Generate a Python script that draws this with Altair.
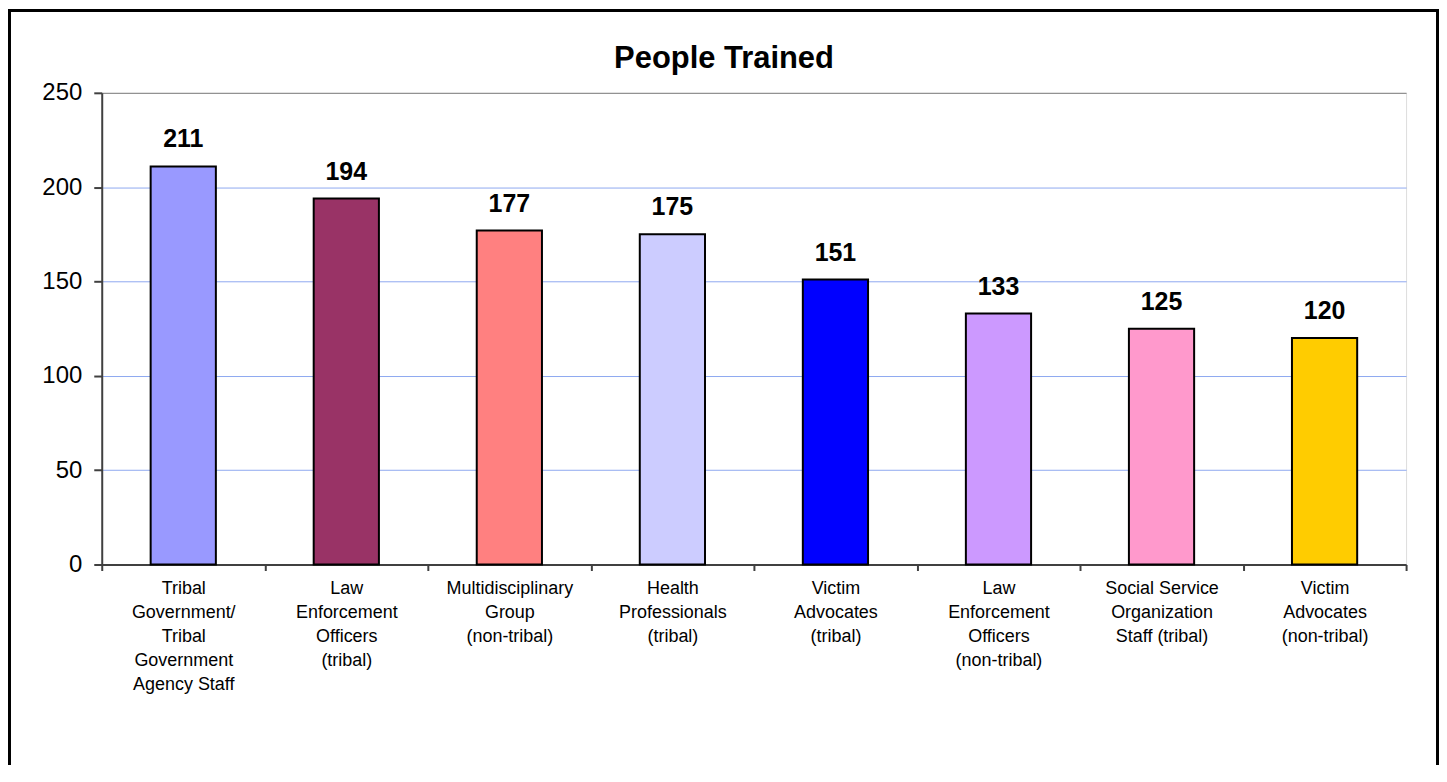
import altair as alt
import pandas as pd

# ---- data ----
categories = [
    "Tribal|Government/|Tribal|Government|Agency Staff",
    "Law|Enforcement|Officers|(tribal)",
    "Multidisciplinary|Group|(non-tribal)",
    "Health|Professionals|(tribal)",
    "Victim|Advocates|(tribal)",
    "Law|Enforcement|Officers|(non-tribal)",
    "Social Service|Organization|Staff (tribal)",
    "Victim|Advocates|(non-tribal)",
]
values = [211, 194, 177, 175, 151, 133, 125, 120]
colors = ["#9999FF", "#993366", "#FF8080", "#CCCCFF", "#0000FF", "#CC99FF", "#FF99CC", "#FFCC00"]
y_ticks = [0, 50, 100, 150, 200, 250]
title_text = "People Trained"

df = pd.DataFrame({"category": categories, "value": values, "color": colors})

FONT = "Liberation Sans"
W, H = 1308, 473

x = alt.X(
    "category:N",
    sort=None,
    title=None,
    scale=alt.Scale(paddingInner=0, paddingOuter=0),
    axis=alt.Axis(
        labelAngle=0,
        labelExpr="split(datum.label, '|')",
        tickBand="extent",
        tickSize=6,
        tickWidth=2,
        tickColor="#404040",
        domainColor="#404040",
        domainWidth=2,
        labelFontSize=18,
        labelLineHeight=24,
        labelColor="black",
        labelPadding=9,
        labelFont=FONT,
        labelLimit=300,
        labelBaseline="top",
        labelOverlap=False,
    ),
)
y = alt.Y(
    "value:Q",
    title=None,
    scale=alt.Scale(domain=[0, 250], nice=False),
    axis=alt.Axis(
        values=y_ticks,
        grid=True,
        gridColor={"condition": {"test": "datum.value == 250", "value": "#808080"}, "value": "#8FA9F0"},
        gridWidth=1,
        tickSize=8,
        tickWidth=2,
        tickColor="#404040",
        domainColor="#404040",
        domainWidth=2,
        labelFontSize=24,
        labelColor="black",
        labelPadding=12,
        labelFont=FONT,
    ),
)

border = alt.Chart(pd.DataFrame({"b": [0]})).mark_rect(
    fillOpacity=0, stroke="black", strokeWidth=3
).encode(
    x=alt.value(-92.5), x2=alt.value(1339.5), y=alt.value(-82.5), y2=alt.value(800)
)

bars = alt.Chart(df).mark_bar(
    width=alt.RelativeBandSize(0.4), stroke="black", strokeWidth=2
).encode(
    x=x, y=y, color=alt.Color("color:N", scale=None, legend=None)
)

labels = alt.Chart(df).mark_text(
    dy=-19, fontSize=25, fontWeight="bold", baseline="alphabetic", font=FONT, color="black"
).encode(x=x, y=y, text="value:Q")

chart = alt.layer(border, bars, labels).properties(
    width=W,
    height=H,
    padding={"left": 94, "top": 84, "right": 33, "bottom": 200},
    autosize="none",
    title=alt.TitleParams(
        title_text,
        fontSize=31,
        fontWeight="bold",
        font=FONT,
        color="black",
        anchor="middle",
        dx=-30,
        offset=-90,
        baseline="alphabetic",
    ),
).configure_view(
    fill="#FFFFCC", stroke="#808080", strokeWidth=2
).configure(background="white")

chart.save("out.html", embed_options={"renderer": "svg", "actions": False})
